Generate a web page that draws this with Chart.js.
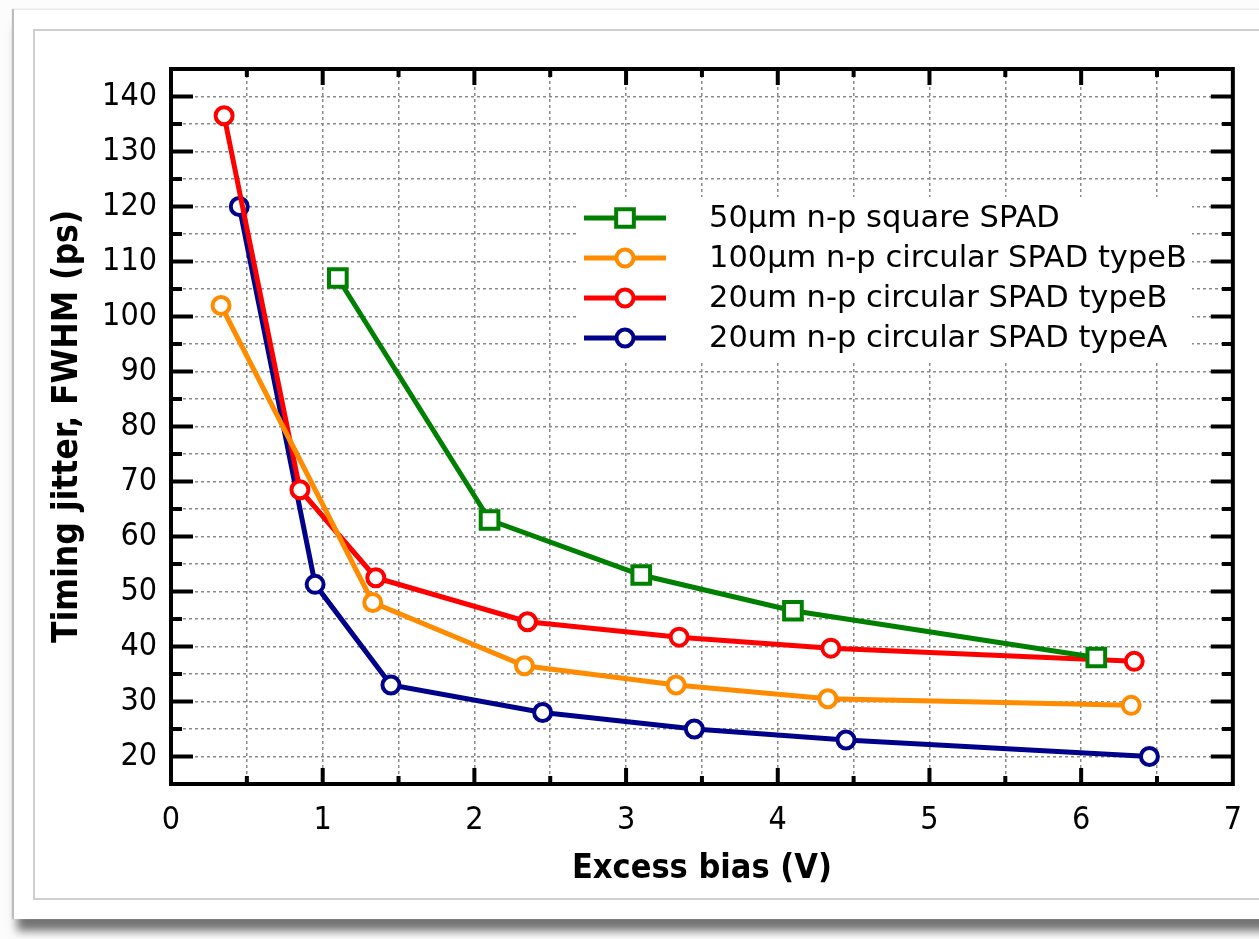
<!DOCTYPE html>
<html>
<head>
<meta charset="utf-8">
<title>Timing jitter vs excess bias</title>
<script src="https://cdn.jsdelivr.net/npm/chart.js@4.4.1/dist/chart.umd.min.js"></script>
<style>
  html, body { margin: 0; padding: 0; background: #fcfcfc; overflow: hidden; }
  .card {
    position: absolute; left: 14px; top: 9px; width: 1320px; height: 909px;
    background: #fff; border-top: 1px solid #ececec;
    box-shadow: -2px 0 1px #bdbdbd, 0 15px 9px -3px rgba(0, 0, 0, 0.55);
  }
  .frame {
    position: absolute; left: 33px; top: 29px; width: 1320px; height: 867px;
    border: 2px solid #cfcfcf; background: #fff;
  }
  canvas { position: absolute; left: 0; top: 0; }
</style>
</head>
<body>
<div class="card"></div>
<div class="frame"></div>
<canvas id="jitterChart" width="1259" height="939"></canvas>
<script>
// measured timing jitter (FWHM, ps) against excess bias (V)
var seriesNames = [
  '50µm n-p square SPAD',
  '100µm n-p circular SPAD typeB',
  '20um n-p circular SPAD typeB',
  '20um n-p circular SPAD typeA'
];
var biasSquare50 = [1.1, 2.1, 3.1, 4.1, 6.1];
var jitterSquare50 = [107, 63, 53, 46.5, 38];
var biasCirc100B = [0.33, 1.33, 2.33, 3.33, 4.33, 6.33];
var jitterCirc100B = [102, 48, 36.5, 33, 30.5, 29.3];
var biasCirc20B = [0.35, 0.85, 1.35, 2.35, 3.35, 4.35, 6.35];
var jitterCirc20B = [136.5, 68.5, 52.5, 44.5, 41.7, 39.7, 37.3];
var biasCirc20A = [0.45, 0.95, 1.45, 2.45, 3.45, 4.45, 6.45];
var jitterCirc20A = [120, 51.3, 33, 28, 25, 23, 20];

var xTickLabels = [0, 1, 2, 3, 4, 5, 6, 7];
var yTickLabels = [20, 30, 40, 50, 60, 70, 80, 90, 100, 110, 120, 130, 140];

var condensed = '"DejaVu Sans Condensed", "DejaVu Sans", sans-serif';
var regular = '"DejaVu Sans", sans-serif';
Chart.defaults.font.family = condensed;
Chart.defaults.color = '#000';

function pairs(xs, ys) {
  return xs.map(function (x, i) { return { x: x, y: ys[i] }; });
}

function series(label, xs, ys, color, style, radius) {
  return {
    label: label,
    data: pairs(xs, ys),
    borderColor: color,
    backgroundColor: '#fff',
    borderWidth: 5,
    pointStyle: style,
    pointRadius: radius,
    pointBorderWidth: 4,
    pointBackgroundColor: '#fff',
    pointBorderColor: color,
    tension: 0
  };
}

// inward ticks on all four sides plus the closed plot frame
var axisFrame = {
  id: 'axisFrame',
  afterDraw: function (chart) {
    var ctx = chart.ctx, a = chart.chartArea, x = chart.scales.x, y = chart.scales.y;
    ctx.save();
    ctx.strokeStyle = '#000';
    ctx.lineWidth = 4;
    ctx.beginPath();
    for (var v = 0.5; v < 7; v += 0.5) {
      var px = x.getPixelForValue(v);
      var len = v % 1 === 0 ? 16 : 8;
      ctx.moveTo(px, a.bottom); ctx.lineTo(px, a.bottom - len);
      ctx.moveTo(px, a.top); ctx.lineTo(px, a.top + len);
    }
    for (var w = 20; w < 145; w += 5) {
      var py = y.getPixelForValue(w);
      var l2 = w % 10 === 0 ? 22 : 11;
      ctx.moveTo(a.left, py); ctx.lineTo(a.left + l2, py);
      ctx.moveTo(a.right, py); ctx.lineTo(a.right - l2, py);
    }
    ctx.stroke();
    ctx.strokeRect(a.left, a.top, a.right - a.left, a.bottom - a.top);
    ctx.restore();
  }
};

// legend box with line + marker samples
var sampleLegend = {
  id: 'sampleLegend',
  afterDraw: function (chart) {
    var ctx = chart.ctx;
    var box = { left: 578, top: 197, right: 1192, bottom: 360 };
    ctx.save();
    ctx.fillStyle = '#fff';
    ctx.fillRect(box.left, box.top, box.right - box.left, box.bottom - box.top);
    ctx.font = '30.5px ' + regular;
    ctx.textBaseline = 'middle';
    chart.data.datasets.forEach(function (ds, i) {
      var rowY = 218 + i * 40;
      ctx.strokeStyle = ds.borderColor;
      ctx.lineWidth = 5;
      ctx.beginPath();
      ctx.moveTo(584, rowY);
      ctx.lineTo(666, rowY);
      ctx.stroke();
      ctx.fillStyle = '#fff';
      ctx.strokeStyle = ds.borderColor;
      ctx.lineWidth = ds.pointBorderWidth;
      Chart.helpers.drawPoint(ctx, {
        pointStyle: ds.pointStyle,
        radius: ds.pointRadius,
        rotation: 0,
        borderWidth: ds.pointBorderWidth
      }, 625, rowY);
      ctx.fillStyle = '#000';
      ctx.fillText(ds.label, 709, rowY + 1);
    });
    ctx.restore();
  }
};

var chart = new Chart(document.getElementById('jitterChart'), {
  type: 'line',
  data: {
    datasets: [
      series(seriesNames[0], biasSquare50, jitterSquare50, '#008000', 'rect', 12.5),
      series(seriesNames[1], biasCirc100B, jitterCirc100B, '#ff8c00', 'circle', 8.5),
      series(seriesNames[2], biasCirc20B, jitterCirc20B, '#ff0000', 'circle', 8.5),
      series(seriesNames[3], biasCirc20A, jitterCirc20A, '#00008b', 'circle', 8.5)
    ]
  },
  options: {
    responsive: false,
    animation: false,
    layout: { padding: { left: 0, top: 69, right: 24, bottom: 0 } },
    plugins: { legend: { display: false }, tooltip: { enabled: false } },
    scales: {
      x: {
        type: 'linear',
        min: 0, max: 7,
        afterFit: function (s) { s.height = 155; },
        ticks: {
          stepSize: 0.5,
          autoSkip: false,
          maxRotation: 0,
          padding: 17,
          font: { size: 32 },
          callback: function (v) { return xTickLabels.indexOf(v) >= 0 ? String(v) : ''; }
        },
        grid: { color: '#8a8a8a', lineWidth: 1.5, drawTicks: false },
        border: { display: false, dash: [3, 3] },
        title: {
          display: true,
          text: 'Excess bias (V)',
          font: { size: 34, weight: 'bold' },
          padding: { top: 0, bottom: 49 }
        }
      },
      y: {
        min: 15, max: 145,
        afterFit: function (s) { s.width = 171; },
        ticks: {
          stepSize: 5,
          autoSkip: false,
          padding: 14,
          font: { size: 32 },
          callback: function (v) { return yTickLabels.indexOf(v) >= 0 ? String(v) : ''; }
        },
        grid: { color: '#8a8a8a', lineWidth: 1.5, drawTicks: false },
        border: { display: false, dash: [3, 3] },
        title: {
          display: true,
          text: 'Timing jitter, FWHM (ps)',
          font: { size: 35, weight: 'bold' },
          padding: { top: 47, bottom: 0 }
        }
      }
    }
  },
  plugins: [axisFrame, sampleLegend]
});
</script>
</body>
</html>
